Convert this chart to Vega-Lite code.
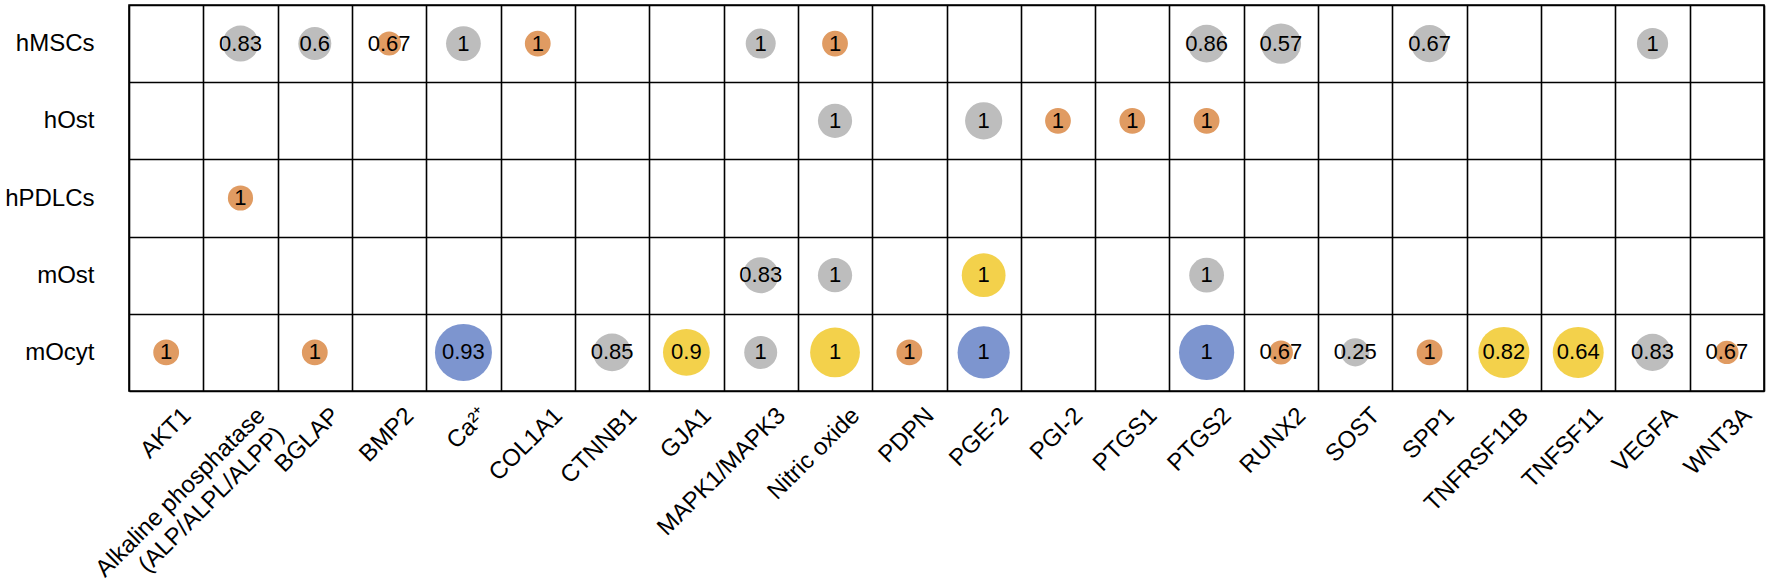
{
  "$schema": "https://vega.github.io/schema/vega-lite/v6.json",
  "autosize": {"type": "none"},
  "padding": {"left": 129, "top": 5, "right": 8, "bottom": 192},
  "width": 1635,
  "height": 386,
  "background": "white",
  "config": {
    "view": {"stroke": "black", "strokeWidth": 1.6},
    "font": "Liberation Sans"
  },
  "data": {
    "values": [
      {"cell": "hMSCs", "target": "Alkaline phosphatase (ALP/ALPL/ALPP)", "score": 0.83, "group": "a", "weight": 6.0},
      {"cell": "hMSCs", "target": "BGLAP", "score": 0.6, "group": "a", "weight": 5.5},
      {"cell": "hMSCs", "target": "BMP2", "score": 0.67, "group": "b", "weight": 4.0},
      {"cell": "hMSCs", "target": "Ca²⁺", "score": 1, "group": "a", "weight": 5.8},
      {"cell": "hMSCs", "target": "COL1A1", "score": 1, "group": "b", "weight": 4.3},
      {"cell": "hMSCs", "target": "MAPK1/MAPK3", "score": 1, "group": "a", "weight": 5.0},
      {"cell": "hMSCs", "target": "Nitric oxide", "score": 1, "group": "b", "weight": 4.3},
      {"cell": "hMSCs", "target": "PTGS2", "score": 0.86, "group": "a", "weight": 6.3},
      {"cell": "hMSCs", "target": "RUNX2", "score": 0.57, "group": "a", "weight": 6.7},
      {"cell": "hMSCs", "target": "SPP1", "score": 0.67, "group": "a", "weight": 6.2},
      {"cell": "hMSCs", "target": "VEGFA", "score": 1, "group": "a", "weight": 5.2},
      {"cell": "hOst", "target": "Nitric oxide", "score": 1, "group": "a", "weight": 5.7},
      {"cell": "hOst", "target": "PGE-2", "score": 1, "group": "a", "weight": 6.2},
      {"cell": "hOst", "target": "PGI-2", "score": 1, "group": "b", "weight": 4.3},
      {"cell": "hOst", "target": "PTGS1", "score": 1, "group": "b", "weight": 4.3},
      {"cell": "hOst", "target": "PTGS2", "score": 1, "group": "b", "weight": 4.3},
      {"cell": "hPDLCs", "target": "Alkaline phosphatase (ALP/ALPL/ALPP)", "score": 1, "group": "b", "weight": 4.2},
      {"cell": "mOst", "target": "MAPK1/MAPK3", "score": 0.83, "group": "a", "weight": 6.0},
      {"cell": "mOst", "target": "Nitric oxide", "score": 1, "group": "a", "weight": 5.7},
      {"cell": "mOst", "target": "PGE-2", "score": 1, "group": "c", "weight": 7.3},
      {"cell": "mOst", "target": "PTGS2", "score": 1, "group": "a", "weight": 5.8},
      {"cell": "mOcyt", "target": "AKT1", "score": 1, "group": "b", "weight": 4.3},
      {"cell": "mOcyt", "target": "BGLAP", "score": 1, "group": "b", "weight": 4.3},
      {"cell": "mOcyt", "target": "Ca²⁺", "score": 0.93, "group": "d", "weight": 9.5},
      {"cell": "mOcyt", "target": "CTNNB1", "score": 0.85, "group": "a", "weight": 6.3},
      {"cell": "mOcyt", "target": "GJA1", "score": 0.9, "group": "c", "weight": 7.8},
      {"cell": "mOcyt", "target": "MAPK1/MAPK3", "score": 1, "group": "a", "weight": 5.5},
      {"cell": "mOcyt", "target": "Nitric oxide", "score": 1, "group": "c", "weight": 8.3},
      {"cell": "mOcyt", "target": "PDPN", "score": 1, "group": "b", "weight": 4.3},
      {"cell": "mOcyt", "target": "PGE-2", "score": 1, "group": "d", "weight": 8.7},
      {"cell": "mOcyt", "target": "PTGS2", "score": 1, "group": "d", "weight": 9.2},
      {"cell": "mOcyt", "target": "RUNX2", "score": 0.67, "group": "b", "weight": 4.0},
      {"cell": "mOcyt", "target": "SOST", "score": 0.25, "group": "a", "weight": 4.7},
      {"cell": "mOcyt", "target": "SPP1", "score": 1, "group": "b", "weight": 4.3},
      {"cell": "mOcyt", "target": "TNFRSF11B", "score": 0.82, "group": "c", "weight": 8.5},
      {"cell": "mOcyt", "target": "TNFSF11", "score": 0.64, "group": "c", "weight": 8.5},
      {"cell": "mOcyt", "target": "VEGFA", "score": 0.83, "group": "a", "weight": 6.2},
      {"cell": "mOcyt", "target": "WNT3A", "score": 0.67, "group": "b", "weight": 3.9}
    ]
  },
  "encoding": {
    "x": {
      "field": "target",
      "type": "nominal",
      "scale": {
        "type": "band",
        "paddingInner": 0,
        "paddingOuter": 0,
        "domain": ["AKT1", "Alkaline phosphatase (ALP/ALPL/ALPP)", "BGLAP", "BMP2", "Ca²⁺", "COL1A1", "CTNNB1", "GJA1", "MAPK1/MAPK3", "Nitric oxide", "PDPN", "PGE-2", "PGI-2", "PTGS1", "PTGS2", "RUNX2", "SOST", "SPP1", "TNFRSF11B", "TNFSF11", "VEGFA", "WNT3A"]
      },
      "axis": {
        "title": null,
        "orient": "bottom",
        "domain": false,
        "ticks": false,
        "tickBand": "extent",
        "grid": true,
        "gridColor": "black",
        "gridOpacity": 1,
        "gridWidth": 1.6,
        "labelAngle": -45,
        "labelFont": "Liberation Sans",
        "labelFontSize": 24,
        "labelColor": "black",
        "labelPadding": 12,
        "labelOffset": 12,
        "labelLineHeight": 27,
        "labelOverlap": false,
        "labelLimit": 400,
        "labelExpr": "datum.label == 'Alkaline phosphatase (ALP/ALPL/ALPP)' ? ['Alkaline phosphatase', '(ALP/ALPL/ALPP) '] : datum.label"
      }
    },
    "y": {
      "field": "cell",
      "type": "nominal",
      "scale": {
        "type": "band",
        "paddingInner": 0,
        "paddingOuter": 0,
        "domain": ["hMSCs", "hOst", "hPDLCs", "mOst", "mOcyt"]
      },
      "axis": {
        "title": null,
        "domain": false,
        "ticks": false,
        "tickBand": "extent",
        "grid": true,
        "gridColor": "black",
        "gridOpacity": 1,
        "gridWidth": 1.6,
        "labelFont": "Liberation Sans",
        "labelFontSize": 24,
        "labelColor": "black",
        "labelPadding": 35
      }
    }
  },
  "layer": [
    {
      "mark": {"type": "circle", "opacity": 1},
      "encoding": {
        "color": {
          "field": "group",
          "type": "nominal",
          "scale": {"domain": ["a", "b", "c", "d"], "range": ["#BDBDBD", "#E09B62", "#F3D14B", "#7D95CF"]},
          "legend": null
        },
        "size": {
          "field": "weight",
          "type": "quantitative",
          "scale": {"type": "pow", "exponent": 2, "domain": [0, 10], "range": [0, 3600]},
          "legend": null
        }
      }
    },
    {
      "mark": {"type": "text", "font": "Liberation Sans", "fontSize": 22, "color": "black", "align": "center", "baseline": "middle"},
      "encoding": {
        "text": {"field": "score", "type": "nominal"}
      }
    }
  ]
}
